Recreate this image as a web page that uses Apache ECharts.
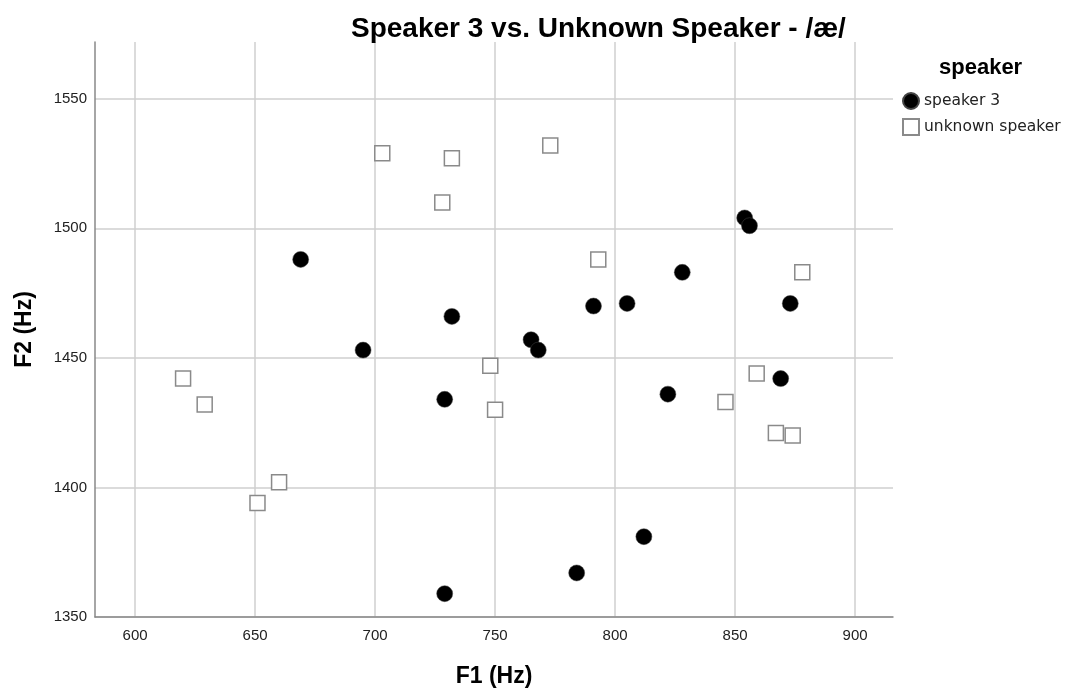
<!DOCTYPE html>
<html>
<head>
<meta charset="utf-8">
<script src="https://cdn.jsdelivr.net/npm/echarts@6/dist/echarts.min.js"></script>
<style>
  html, body { margin: 0; padding: 0; background: #fff; }
  #chart { width: 1067px; height: 693px; }
</style>
</head>
<body>
<div id="chart"></div>
<script>
// F1 / F2 values
const speaker3F1 = [669, 695, 732, 765, 768, 791, 805, 828, 854, 856, 873, 869, 822, 729, 729, 812, 784];
const speaker3F2 = [1488, 1453, 1466, 1457, 1453, 1470, 1471, 1483, 1504, 1501, 1471, 1442, 1436, 1434, 1359, 1381, 1367];
const unknownF1 = [703, 732, 728, 773, 793, 748, 750, 878, 859, 846, 867, 874, 620, 629, 660, 651];
const unknownF2 = [1529, 1527, 1510, 1532, 1488, 1447, 1430, 1483, 1444, 1433, 1421, 1420, 1442, 1432, 1402, 1394];
const seriesNames = ["speaker 3", "unknown speaker"];
const xTicks = [600, 650, 700, 750, 800, 850, 900];
const yTicks = [1350, 1400, 1450, 1500, 1550];

const font = "Liberation Sans, Arial, sans-serif";
const pairs = (xs, ys) => xs.map((x, i) => [x, ys[i]]);

const chart = echarts.init(document.getElementById("chart"));

const option = {
  animation: false,
  backgroundColor: "#fff",
  title: [
    {
      text: "Speaker 3 vs. Unknown Speaker - /æ/",
      left: 346,
      top: 10,
      textStyle: { fontFamily: font, fontSize: 28, fontWeight: "bold", color: "#000" },
    },
    {
      text: "speaker",
      left: 934,
      top: 52,
      textStyle: { fontFamily: font, fontSize: 22, fontWeight: "bold", color: "#000" },
    },
  ],
  legend: {
    orient: "vertical",
    left: 897,
    top: 87,
    itemWidth: 16,
    itemHeight: 16,
    itemGap: 8,
    textStyle: { fontFamily: "DejaVu Sans, sans-serif", fontSize: 15.5, color: "#222" },
    data: seriesNames,
  },
  grid: { left: 95, right: 174, top: 42, bottom: 71 },
  xAxis: {
    type: "value",
    min: 583.3,
    max: 915.8,
    name: "F1 (Hz)",
    nameLocation: "middle",
    nameGap: 48,
    nameTextStyle: { fontFamily: font, fontSize: 23, fontWeight: "bold", color: "#000" },
    axisLine: { show: true, lineStyle: { color: "#888", width: 1.5 } },
    axisTick: { show: false, customValues: xTicks },
    axisLabel: {
      fontFamily: font, fontSize: 15, color: "#222", margin: 11,
      customValues: xTicks, formatter: (v) => String(v),
    },
    splitLine: { show: true, lineStyle: { color: "#cfcfcf", width: 1.5 } },
  },
  yAxis: {
    type: "value",
    min: 1350,
    max: 1571.9,
    name: "F2 (Hz)",
    nameLocation: "middle",
    nameGap: 59,
    nameTextStyle: { fontFamily: font, fontSize: 23, fontWeight: "bold", color: "#000" },
    axisLine: { show: true, lineStyle: { color: "#888", width: 1.5 } },
    axisTick: { show: false, customValues: yTicks },
    axisLabel: {
      fontFamily: font, fontSize: 15, color: "#222", margin: 8,
      customValues: yTicks, formatter: (v) => String(v),
    },
    splitLine: { show: true, lineStyle: { color: "#cfcfcf", width: 1.5 } },
  },
  series: [
    {
      name: seriesNames[0],
      type: "scatter",
      symbol: "circle",
      symbolSize: 16,
      itemStyle: { color: "#000", borderColor: "#444", borderWidth: 0.5, opacity: 1 },
      data: pairs(speaker3F1, speaker3F2),
    },
    {
      name: seriesNames[1],
      type: "scatter",
      symbol: "rect",
      symbolSize: 15,
      itemStyle: { color: "#fff", borderColor: "#8a8a8a", borderWidth: 1.5, opacity: 1 },
      data: pairs(unknownF1, unknownF2),
    },
  ],
};

chart.setOption(option);
</script>
</body>
</html>
